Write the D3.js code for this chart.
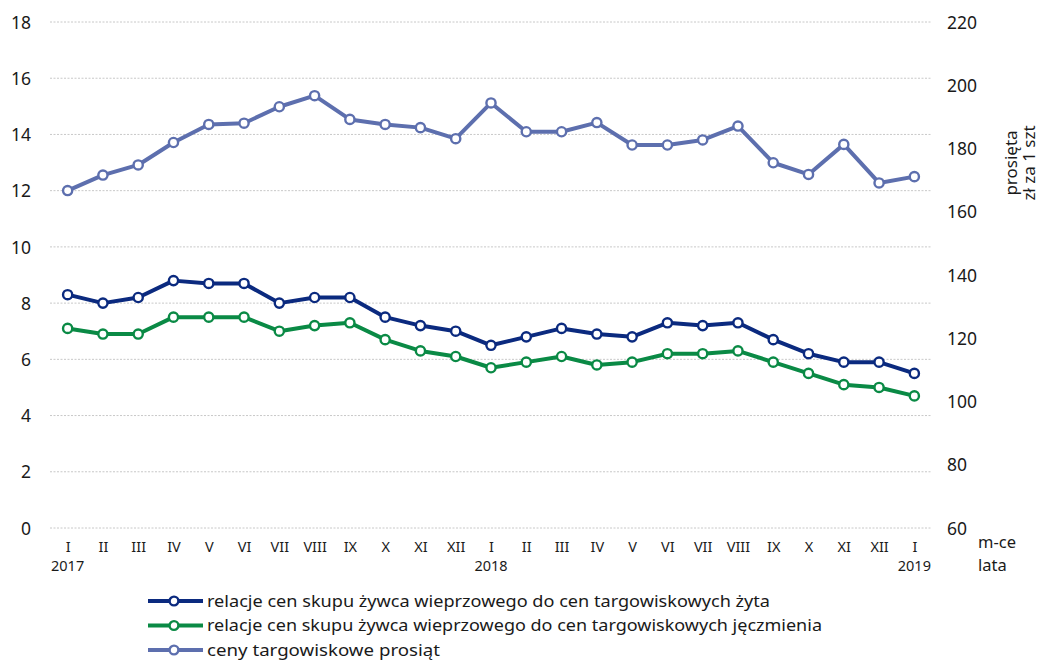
<!DOCTYPE html>
<html><head><meta charset="utf-8">
<script src="https://cdn.jsdelivr.net/npm/d3@7"></script>
<style>body{margin:0;background:#fff}svg{display:block}text{font-family:"Noto Sans",sans-serif;fill:#1a1a1a}</style>
</head><body><svg id="c" width="1041" height="660"></svg>
<script>
const months = ["I","II","III","IV","V","VI","VII","VIII","IX","X","XI","XII","I","II","III","IV","V","VI","VII","VIII","IX","X","XI","XII","I"];
const years = {0:"2017",12:"2018",24:"2019"};
const rye = [8.3,8.0,8.2,8.8,8.7,8.7,8.0,8.2,8.2,7.5,7.2,7.0,6.5,6.8,7.1,6.9,6.8,7.3,7.2,7.3,6.7,6.2,5.9,5.9,5.5];
const barley = [7.1,6.9,6.9,7.5,7.5,7.5,7.0,7.2,7.3,6.7,6.3,6.1,5.7,5.9,6.1,5.8,5.9,6.2,6.2,6.3,5.9,5.5,5.1,5.0,4.7];
const piglets = [166.7,171.6,174.8,181.9,187.6,188.0,193.2,196.7,189.2,187.6,186.6,183.1,194.4,185.3,185.3,188.2,181.1,181.1,182.7,187.1,175.5,171.8,181.3,169.1,171.1];
const leftTicks = [0,2,4,6,8,10,12,14,16,18];
const rightTicks = [60,80,100,120,140,160,180,200,220];
const seriesNames = ["relacje cen skupu żywca wieprzowego do cen targowiskowych żyta","relacje cen skupu żywca wieprzowego do cen targowiskowych jęczmienia","ceny targowiskowe prosiąt"];
const colors = ["#0b2a7f","#0a8a45","#5d6fae"];

const svg = d3.select("#c");
const x = d3.scalePoint().domain(d3.range(months.length)).range([50,932]).padding(0.5);
const yL = d3.scaleLinear().domain([0,18]).range([528,22]);
const yR = d3.scaleLinear().domain([60,220]).range([528,22]);

// grid
svg.append("g").selectAll("line").data(leftTicks).join("line")
  .attr("x1",50).attr("x2",932).attr("y1",d=>yL(d)).attr("y2",d=>yL(d))
  .attr("stroke","#c8c8c8").attr("stroke-width",1).attr("stroke-dasharray","2,1.5");

// left axis
const gl = svg.append("g").attr("transform","translate(31,0)")
  .call(d3.axisLeft(yL).tickValues(leftTicks).tickSize(0).tickPadding(0));
gl.select(".domain").remove();
gl.selectAll("text").attr("font-size",17.5).attr("x",0).attr("dy","0.35em").attr("text-anchor","end").style("font-family","Noto Sans");

// right axis
const gr = svg.append("g").attr("transform","translate(947,0)")
  .call(d3.axisRight(yR).tickValues(rightTicks).tickSize(0).tickPadding(0));
gr.select(".domain").remove();
gr.selectAll("text").attr("font-size",17.5).attr("dy","0.35em").style("font-family","Noto Sans");

// x axis
const gx = svg.append("g").attr("transform","translate(0,539)")
  .call(d3.axisBottom(x).tickSize(0).tickPadding(0).tickFormat(i=>months[i]));
gx.select(".domain").remove();
gx.selectAll("text").attr("font-size",14.5).attr("dy","0.9em").style("font-family","Noto Sans");
svg.append("g").selectAll("text").data(Object.keys(years)).join("text")
  .attr("x",d=>x(+d)).attr("y",571).attr("text-anchor","middle").attr("font-size",14.5).text(d=>years[d]);

svg.append("text").attr("x",978).attr("y",548).attr("font-size",16.5).text("m-ce");
svg.append("text").attr("x",978).attr("y",571).attr("font-size",16.5).text("lata");

// right axis title
const rt = svg.append("text").attr("transform","translate(1017,163) rotate(-90)").attr("text-anchor","middle").attr("font-size",17);
rt.append("tspan").attr("x",0).attr("dy",0).text("prosięta");
rt.append("tspan").attr("x",0).attr("dy","1.05em").text("zł za 1 szt");

// series
const data = [{v:rye,y:yL},{v:barley,y:yL},{v:piglets,y:yR}];
data.forEach((s,k)=>{
  const line = d3.line().x((d,i)=>x(i)).y(d=>s.y(d));
  svg.append("path").datum(s.v).attr("d",line).attr("fill","none")
    .attr("stroke",colors[k]).attr("stroke-width",4).attr("stroke-linejoin","round");
  svg.append("g").selectAll("circle").data(s.v).join("circle")
    .attr("cx",(d,i)=>x(i)).attr("cy",d=>s.y(d)).attr("r",4.6)
    .attr("fill","#fff").attr("stroke",colors[k]).attr("stroke-width",2.4);
});

// legend
const legendWidths = [563,615,233];
const lg = svg.append("g").selectAll("g").data(seriesNames).join("g")
  .attr("transform",(d,i)=>`translate(148,${601+i*24.5})`);
lg.append("line").attr("x1",0).attr("x2",55).attr("stroke",(d,i)=>colors[i]).attr("stroke-width",4);
lg.append("circle").attr("cx",26).attr("r",4.4).attr("fill","#fff").attr("stroke",(d,i)=>colors[i]).attr("stroke-width",2.4);
lg.append("text").attr("x",59).attr("dy","0.35em").attr("font-size",17)
  .attr("textLength",(d,i)=>legendWidths[i]).attr("lengthAdjust","spacingAndGlyphs").text(d=>d);
</script></body></html>
